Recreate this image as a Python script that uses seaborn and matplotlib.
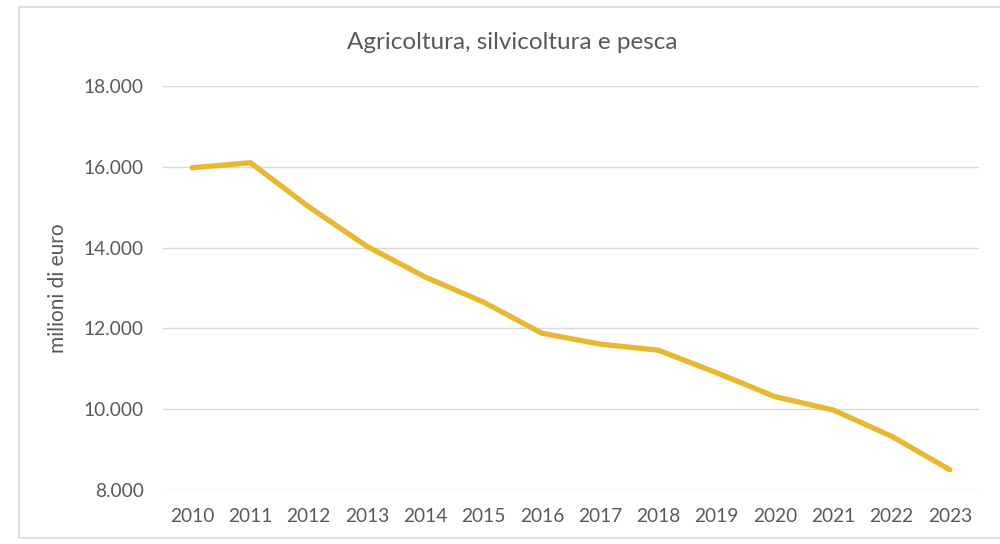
import matplotlib
matplotlib.use("Agg")
import matplotlib.pyplot as plt
import seaborn as sns
import pandas as pd
from matplotlib.patches import Rectangle
from matplotlib.ticker import FuncFormatter

# Data (milioni di euro)
years = ["2010", "2011", "2012", "2013", "2014", "2015", "2016",
         "2017", "2018", "2019", "2020", "2021", "2022", "2023"]
values = [15975, 16100, 15010, 14030, 13270, 12650, 11880,
          11610, 11460, 10900, 10310, 9980, 9330, 8500]

title = "Agricoltura, silvicoltura e pesca"
ylabel = "milioni di euro"
yticks = [8000, 10000, 12000, 14000, 16000, 18000]

df = pd.DataFrame({"anno": years, "valore": values})

sns.set_theme(style="white")
plt.rcParams["font.family"] = ["Lato", "DejaVu Sans"]
text_col = "#595959"

fig = plt.figure(figsize=(10, 5.44), dpi=100)
ax = fig.add_axes([0.163, 0.0993, 0.816, 0.7427])

sns.lineplot(data=df, x="anno", y="valore", ax=ax, color="#E8B830",
             linewidth=3.8, sort=False)

ax.set_xlim(-0.5, len(years) - 0.5)
ax.set_ylim(yticks[0], yticks[-1])
ax.set_yticks(yticks)
ax.yaxis.set_major_formatter(FuncFormatter(lambda v, p: f"{int(v):,}".replace(",", ".")))
ax.grid(axis="y", color="#d9d9d9", linewidth=1)
ax.set_axisbelow(True)
for s in ax.spines.values():
    s.set_visible(False)
ax.tick_params(axis="both", length=0, labelsize=13.8, colors=text_col)
ax.tick_params(axis="y", pad=14)
ax.tick_params(axis="x", pad=13)
ax.set_xlabel("")
ax.set_ylabel(ylabel, fontsize=15, color=text_col, labelpad=11)

fig.text(0.512, 0.922, title, ha="center", va="center", fontsize=17.5, color=text_col)

# chart frame
fig.patches.append(Rectangle((0.019, 0.011), 1.2, 0.977, transform=fig.transFigure,
                             fill=False, edgecolor="#d9d9d9", linewidth=1.2))

fig.savefig("out.png", dpi=100, facecolor="white")
